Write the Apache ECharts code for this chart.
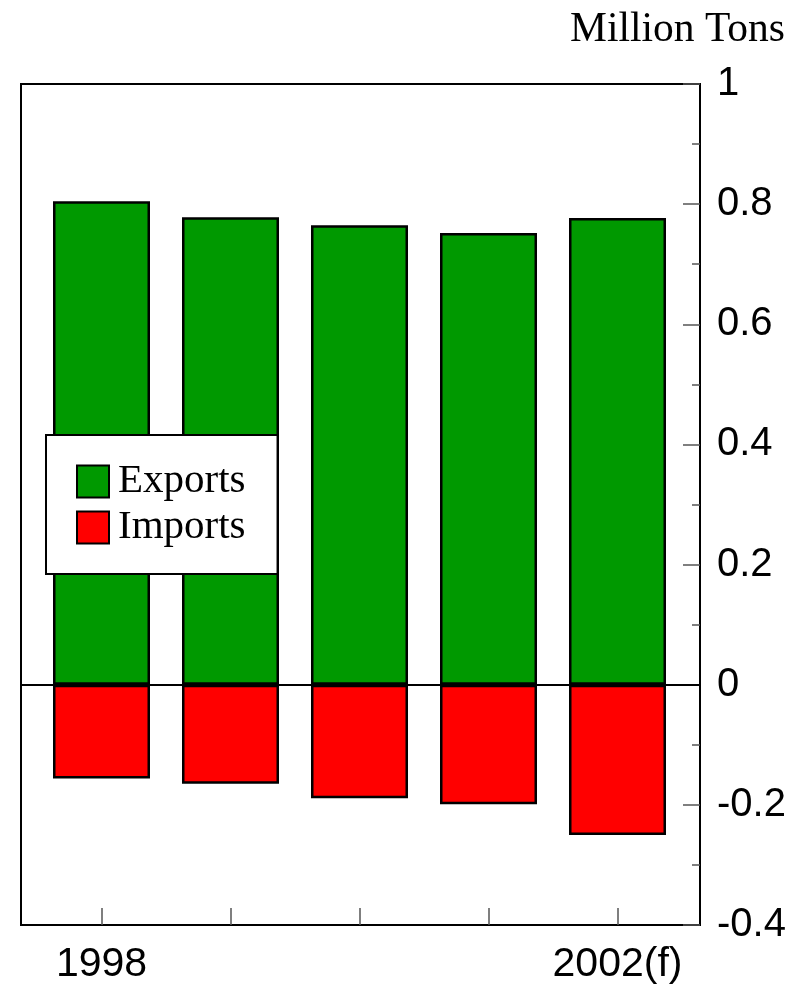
<!DOCTYPE html>
<html>
<head>
<meta charset="utf-8">
<script src="https://cdn.jsdelivr.net/npm/echarts@6/dist/echarts.min.js"></script>
<style>html,body{margin:0;padding:0;background:#fff}#c{width:802px;height:985px}</style>
</head>
<body>
<div id="c"></div>
<script>
const years = ['1998', '1999', '2000', '2001', '2002(f)'];
const exportsVals = [0.805, 0.778, 0.765, 0.752, 0.777];
const importsVals = [-0.156, -0.165, -0.189, -0.199, -0.25];
const shownXLabels = ['1998', '2002(f)'];

const chart = echarts.init(document.getElementById('c'));
const sans = 'Liberation Sans, Arial, sans-serif';
const serif = 'Liberation Serif, Times New Roman, serif';
chart.setOption({
  animation: false,
  backgroundColor: '#fff',
  title: {
    text: 'Million Tons', right: 12, top: 4,
    textStyle: {fontFamily: serif, fontSize: 41.5, fontWeight: 'normal', color: '#000'}
  },
  grid: [
    {left: 21, right: 102, top: 84, bottom: 60, show: true, borderColor: '#000', borderWidth: 2, backgroundColor: 'transparent'},
    {left: 37, right: 120, top: 84, bottom: 60}
  ],
  legend: {
    left: 46, top: 435, orient: 'vertical',
    backgroundColor: '#fff', borderColor: '#000', borderWidth: 2,
    padding: [26, 32, 26, 30], itemGap: 5, itemWidth: 32, itemHeight: 32,
    icon: 'rect',
    textStyle: {fontFamily: serif, fontSize: 41, color: '#000', padding: [0, 0, 0, 4]},
    data: ['Exports', 'Imports']
  },
  xAxis: [
    {
      gridIndex: 0, type: 'value', min: 0, max: 1, z: 10,
      splitLine: {show: false},
      axisLine: {show: true, onZero: true, lineStyle: {color: '#000', width: 2}},
      axisTick: {show: false}, axisLabel: {show: false}
    },
    {
      gridIndex: 1, type: 'category', data: years, position: 'bottom',
      axisLine: {show: false, onZero: false},
      axisTick: {show: true, inside: true, alignWithLabel: true, length: 17, lineStyle: {color: '#555', width: 1.5}},
      axisLabel: {interval: 0, margin: 19, fontFamily: sans, fontSize: 41, color: '#000',
        formatter: v => shownXLabels.includes(v) ? v : ''}
    }
  ],
  yAxis: [
    {
      gridIndex: 0, type: 'value', position: 'right', min: -0.4, max: 1, interval: 0.2,
      splitLine: {show: false},
      axisLine: {show: false, onZero: false},
      axisTick: {show: true, inside: true, length: 17, lineStyle: {color: '#555', width: 1.5}},
      minorTick: {show: true, splitNumber: 2, length: 8, lineStyle: {color: '#555', width: 1.5}},
      axisLabel: {margin: 17, fontFamily: sans, fontSize: 40, color: '#000',
        formatter: v => String(Math.round(v * 10) / 10)}
    },
    {
      gridIndex: 1, type: 'value', min: -0.4, max: 1, show: false
    }
  ],
  series: [
    {
      name: 'Exports', type: 'bar', xAxisIndex: 1, yAxisIndex: 1, stack: 'a', barWidth: 97,
      itemStyle: {color: '#009900', borderColor: '#000', borderWidth: 2.5},
      data: exportsVals
    },
    {
      name: 'Imports', type: 'bar', xAxisIndex: 1, yAxisIndex: 1, stack: 'a', barWidth: 97,
      itemStyle: {color: '#ff0000', borderColor: '#000', borderWidth: 2.5},
      data: importsVals
    }
  ]
});
</script>
</body>
</html>
